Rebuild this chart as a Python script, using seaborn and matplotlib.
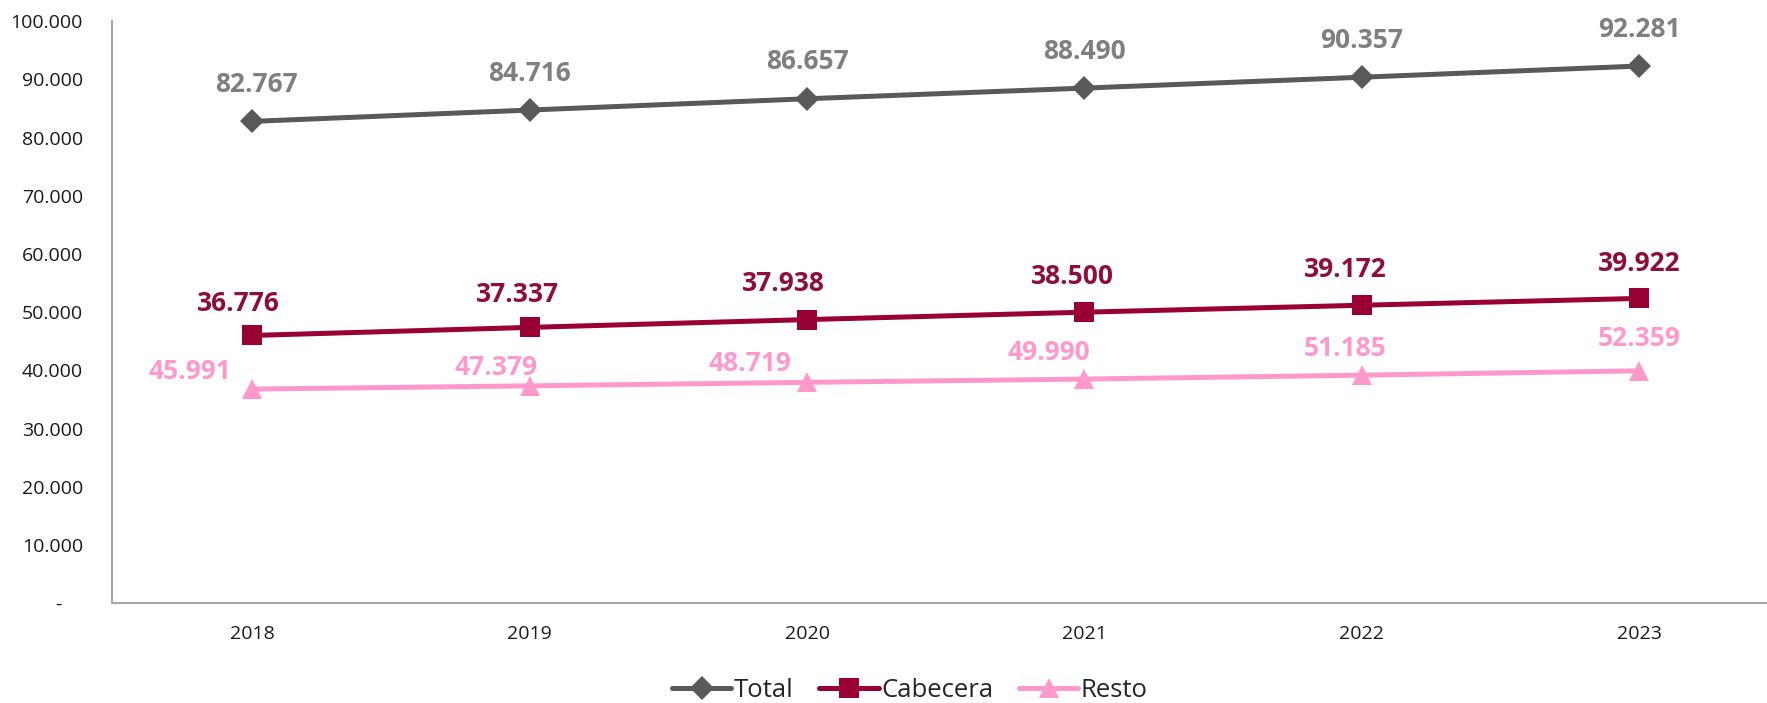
import seaborn as sns
import matplotlib.pyplot as plt
import pandas as pd
from matplotlib.ticker import FuncFormatter

# datos
anios = [2018, 2019, 2020, 2021, 2022, 2023]
total = [82767, 84716, 86657, 88490, 90357, 92281]
cabecera = [45991, 47379, 48719, 49990, 51185, 52359]
resto = [36776, 37337, 37938, 38500, 39172, 39922]
# etiquetas tal como aparecen en el grafico original (intercambiadas)
etiq_cabecera = resto
etiq_resto = cabecera

df = pd.DataFrame({
    "Año": anios * 3,
    "Valor": total + cabecera + resto,
    "Serie": ["Total"] * 6 + ["Cabecera"] * 6 + ["Resto"] * 6,
})

colores = {"Total": "#595959", "Cabecera": "#990033", "Resto": "#FF99CC"}
marcadores = {"Total": "D", "Cabecera": "s", "Resto": "^"}
tamanos = {"Total": 12, "Cabecera": 14, "Resto": 15}
col_etiq = {"Total": "#7F7F7F", "Cabecera": "#8E0E3A", "Resto": "#FF99CC"}

sns.set_theme(style="white")
plt.rcParams['font.family'] = ['Open Sans', 'DejaVu Sans']

fig = plt.figure(figsize=(17.67, 7.03), dpi=100)
ax = fig.add_axes([0.0634, 0.142, 0.9366, 0.828])

for serie in ["Total", "Cabecera", "Resto"]:
    sub = df[df["Serie"] == serie]
    sns.lineplot(data=sub, x="Año", y="Valor", ax=ax, color=colores[serie],
                 marker=marcadores[serie], markersize=tamanos[serie],
                 markeredgewidth=0, linewidth=3.6, label=serie)

# etiquetas de datos (desplazamientos en pixeles)
def etiquetar(vals, etiq, color, dxs, dys):
    for x, v, e, dx, dy in zip(anios, vals, etiq, dxs, dys):
        txt = f"{e:,}".replace(",", ".")
        ax.annotate(txt, (x, v), xytext=(dx * 0.72, dy * 0.72), textcoords="offset points",
                    ha="center", va="center", fontsize=19, fontweight="bold", color=color)

etiquetar(total, total, col_etiq["Total"], [4, 0, 0, 0, 0, 0], [37] * 6)
etiquetar(cabecera, etiq_cabecera, col_etiq["Cabecera"], [-14, -12, -24, -12, -17, 0], [32, 33, 36, 36, 36, 35])
etiquetar(resto, etiq_resto, col_etiq["Resto"], [-62, -34, -57, -36, -17, 0], [18, 18, 19, 27, 27, 32])

ax.set_ylim(0, 100000)
ax.set_xlim(2018 - 0.505, 2023 + 0.46)
ax.set_yticks(range(0, 100001, 10000))
ax.set_xticks(anios)
ax.yaxis.set_major_formatter(FuncFormatter(
    lambda v, p: "-    " if v == 0 else f"{int(v):,}".replace(",", ".")))
ax.tick_params(axis="y", labelsize=14, pad=21, length=0, colors="#1a1a1a")
ax.tick_params(axis="x", labelsize=14, pad=16, length=0, colors="#1a1a1a")
ax.set_xlabel("")
ax.set_ylabel("")

for lado in ["top", "right"]:
    ax.spines[lado].set_visible(False)
for lado in ["left", "bottom"]:
    ax.spines[lado].set_color("#A6A6A6")
    ax.spines[lado].set_linewidth(1.5)

ax.get_legend().remove()
handles, labels = ax.get_legend_handles_labels()
fig.legend(handles, labels, loc="center", bbox_to_anchor=(0.515, 0.018), ncol=3,
           frameon=False, fontsize=18.5, handlelength=2.3, handletextpad=0.1,
           columnspacing=1.0)

plt.savefig("out.png", dpi=100)
plt.close()
